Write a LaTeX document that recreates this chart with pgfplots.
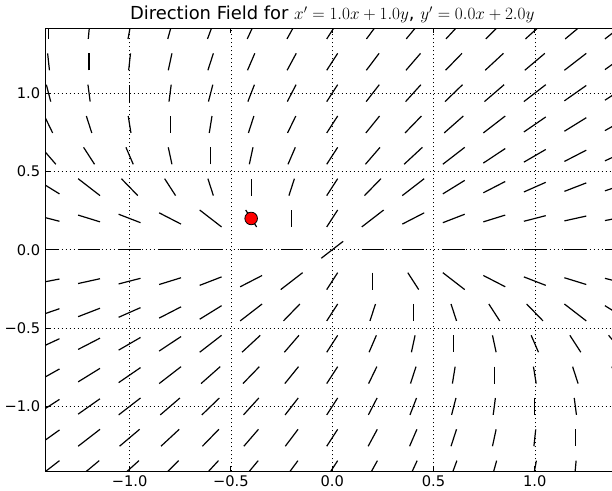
\documentclass[border=0pt]{standalone}
\usepackage{fontspec}
\setmainfont{DejaVu Sans}
\usepackage{pgfplots}
\usepackage{pgfplotstable}
\pgfplotsset{compat=1.18}
\pgfplotstableread{
x y u v
-1.4 -1.4 -2.8 -2.8
-1.2 -1.4 -2.6 -2.8
-1.0 -1.4 -2.4 -2.8
-0.8 -1.4 -2.2 -2.8
-0.6 -1.4 -2.0 -2.8
-0.4 -1.4 -1.8 -2.8
-0.2 -1.4 -1.6 -2.8
0.0 -1.4 -1.4 -2.8
0.2 -1.4 -1.2 -2.8
0.4 -1.4 -1.0 -2.8
0.6 -1.4 -0.8 -2.8
0.8 -1.4 -0.6 -2.8
1.0 -1.4 -0.4 -2.8
1.2 -1.4 -0.2 -2.8
1.4 -1.4 0.0 -2.8
-1.4 -1.2 -2.6 -2.4
-1.2 -1.2 -2.4 -2.4
-1.0 -1.2 -2.2 -2.4
-0.8 -1.2 -2.0 -2.4
-0.6 -1.2 -1.8 -2.4
-0.4 -1.2 -1.6 -2.4
-0.2 -1.2 -1.4 -2.4
0.0 -1.2 -1.2 -2.4
0.2 -1.2 -1.0 -2.4
0.4 -1.2 -0.8 -2.4
0.6 -1.2 -0.6 -2.4
0.8 -1.2 -0.4 -2.4
1.0 -1.2 -0.2 -2.4
1.2 -1.2 0.0 -2.4
1.4 -1.2 0.2 -2.4
-1.4 -1.0 -2.4 -2.0
-1.2 -1.0 -2.2 -2.0
-1.0 -1.0 -2.0 -2.0
-0.8 -1.0 -1.8 -2.0
-0.6 -1.0 -1.6 -2.0
-0.4 -1.0 -1.4 -2.0
-0.2 -1.0 -1.2 -2.0
0.0 -1.0 -1.0 -2.0
0.2 -1.0 -0.8 -2.0
0.4 -1.0 -0.6 -2.0
0.6 -1.0 -0.4 -2.0
0.8 -1.0 -0.2 -2.0
1.0 -1.0 0.0 -2.0
1.2 -1.0 0.2 -2.0
1.4 -1.0 0.4 -2.0
-1.4 -0.8 -2.2 -1.6
-1.2 -0.8 -2.0 -1.6
-1.0 -0.8 -1.8 -1.6
-0.8 -0.8 -1.6 -1.6
-0.6 -0.8 -1.4 -1.6
-0.4 -0.8 -1.2 -1.6
-0.2 -0.8 -1.0 -1.6
0.0 -0.8 -0.8 -1.6
0.2 -0.8 -0.6 -1.6
0.4 -0.8 -0.4 -1.6
0.6 -0.8 -0.2 -1.6
0.8 -0.8 0.0 -1.6
1.0 -0.8 0.2 -1.6
1.2 -0.8 0.4 -1.6
1.4 -0.8 0.6 -1.6
-1.4 -0.6 -2.0 -1.2
-1.2 -0.6 -1.8 -1.2
-1.0 -0.6 -1.6 -1.2
-0.8 -0.6 -1.4 -1.2
-0.6 -0.6 -1.2 -1.2
-0.4 -0.6 -1.0 -1.2
-0.2 -0.6 -0.8 -1.2
0.0 -0.6 -0.6 -1.2
0.2 -0.6 -0.4 -1.2
0.4 -0.6 -0.2 -1.2
0.6 -0.6 0.0 -1.2
0.8 -0.6 0.2 -1.2
1.0 -0.6 0.4 -1.2
1.2 -0.6 0.6 -1.2
1.4 -0.6 0.8 -1.2
-1.4 -0.4 -1.8 -0.8
-1.2 -0.4 -1.6 -0.8
-1.0 -0.4 -1.4 -0.8
-0.8 -0.4 -1.2 -0.8
-0.6 -0.4 -1.0 -0.8
-0.4 -0.4 -0.8 -0.8
-0.2 -0.4 -0.6 -0.8
0.0 -0.4 -0.4 -0.8
0.2 -0.4 -0.2 -0.8
0.4 -0.4 0.0 -0.8
0.6 -0.4 0.2 -0.8
0.8 -0.4 0.4 -0.8
1.0 -0.4 0.6 -0.8
1.2 -0.4 0.8 -0.8
1.4 -0.4 1.0 -0.8
-1.4 -0.2 -1.6 -0.4
-1.2 -0.2 -1.4 -0.4
-1.0 -0.2 -1.2 -0.4
-0.8 -0.2 -1.0 -0.4
-0.6 -0.2 -0.8 -0.4
-0.4 -0.2 -0.6 -0.4
-0.2 -0.2 -0.4 -0.4
0.0 -0.2 -0.2 -0.4
0.2 -0.2 0.0 -0.4
0.4 -0.2 0.2 -0.4
0.6 -0.2 0.4 -0.4
0.8 -0.2 0.6 -0.4
1.0 -0.2 0.8 -0.4
1.2 -0.2 1.0 -0.4
1.4 -0.2 1.2 -0.4
-1.4 0.0 -1.4 0.0
-1.2 0.0 -1.2 0.0
-1.0 0.0 -1.0 0.0
-0.8 0.0 -0.8 0.0
-0.6 0.0 -0.6 0.0
-0.4 0.0 -0.4 0.0
-0.2 0.0 -0.2 0.0
0.0 0.0 0.0001 0.0001
0.2 0.0 0.2 0.0
0.4 0.0 0.4 0.0
0.6 0.0 0.6 0.0
0.8 0.0 0.8 0.0
1.0 0.0 1.0 0.0
1.2 0.0 1.2 0.0
1.4 0.0 1.4 0.0
-1.4 0.2 -1.2 0.4
-1.2 0.2 -1.0 0.4
-1.0 0.2 -0.8 0.4
-0.8 0.2 -0.6 0.4
-0.6 0.2 -0.4 0.4
-0.4 0.2 -0.2 0.4
-0.2 0.2 0.0 0.4
0.0 0.2 0.2 0.4
0.2 0.2 0.4 0.4
0.4 0.2 0.6 0.4
0.6 0.2 0.8 0.4
0.8 0.2 1.0 0.4
1.0 0.2 1.2 0.4
1.2 0.2 1.4 0.4
1.4 0.2 1.6 0.4
-1.4 0.4 -1.0 0.8
-1.2 0.4 -0.8 0.8
-1.0 0.4 -0.6 0.8
-0.8 0.4 -0.4 0.8
-0.6 0.4 -0.2 0.8
-0.4 0.4 0.0 0.8
-0.2 0.4 0.2 0.8
0.0 0.4 0.4 0.8
0.2 0.4 0.6 0.8
0.4 0.4 0.8 0.8
0.6 0.4 1.0 0.8
0.8 0.4 1.2 0.8
1.0 0.4 1.4 0.8
1.2 0.4 1.6 0.8
1.4 0.4 1.8 0.8
-1.4 0.6 -0.8 1.2
-1.2 0.6 -0.6 1.2
-1.0 0.6 -0.4 1.2
-0.8 0.6 -0.2 1.2
-0.6 0.6 0.0 1.2
-0.4 0.6 0.2 1.2
-0.2 0.6 0.4 1.2
0.0 0.6 0.6 1.2
0.2 0.6 0.8 1.2
0.4 0.6 1.0 1.2
0.6 0.6 1.2 1.2
0.8 0.6 1.4 1.2
1.0 0.6 1.6 1.2
1.2 0.6 1.8 1.2
1.4 0.6 2.0 1.2
-1.4 0.8 -0.6 1.6
-1.2 0.8 -0.4 1.6
-1.0 0.8 -0.2 1.6
-0.8 0.8 0.0 1.6
-0.6 0.8 0.2 1.6
-0.4 0.8 0.4 1.6
-0.2 0.8 0.6 1.6
0.0 0.8 0.8 1.6
0.2 0.8 1.0 1.6
0.4 0.8 1.2 1.6
0.6 0.8 1.4 1.6
0.8 0.8 1.6 1.6
1.0 0.8 1.8 1.6
1.2 0.8 2.0 1.6
1.4 0.8 2.2 1.6
-1.4 1.0 -0.4 2.0
-1.2 1.0 -0.2 2.0
-1.0 1.0 0.0 2.0
-0.8 1.0 0.2 2.0
-0.6 1.0 0.4 2.0
-0.4 1.0 0.6 2.0
-0.2 1.0 0.8 2.0
0.0 1.0 1.0 2.0
0.2 1.0 1.2 2.0
0.4 1.0 1.4 2.0
0.6 1.0 1.6 2.0
0.8 1.0 1.8 2.0
1.0 1.0 2.0 2.0
1.2 1.0 2.2 2.0
1.4 1.0 2.4 2.0
-1.4 1.2 -0.2 2.4
-1.2 1.2 0.0 2.4
-1.0 1.2 0.2 2.4
-0.8 1.2 0.4 2.4
-0.6 1.2 0.6 2.4
-0.4 1.2 0.8 2.4
-0.2 1.2 1.0 2.4
0.0 1.2 1.2 2.4
0.2 1.2 1.4 2.4
0.4 1.2 1.6 2.4
0.6 1.2 1.8 2.4
0.8 1.2 2.0 2.4
1.0 1.2 2.2 2.4
1.2 1.2 2.4 2.4
1.4 1.2 2.6 2.4
-1.4 1.4 0.0 2.8
-1.2 1.4 0.2 2.8
-1.0 1.4 0.4 2.8
-0.8 1.4 0.6 2.8
-0.6 1.4 0.8 2.8
-0.4 1.4 1.0 2.8
-0.2 1.4 1.2 2.8
0.0 1.4 1.4 2.8
0.2 1.4 1.6 2.8
0.4 1.4 1.8 2.8
0.6 1.4 2.0 2.8
0.8 1.4 2.2 2.8
1.0 1.4 2.4 2.8
1.2 1.4 2.6 2.8
1.4 1.4 2.8 2.8
}\fieldtable
\begin{document}
\begin{tikzpicture}
\begin{axis}[
  name=ax,
  scale only axis,
  width=573bp, height=443bp,
  xmin=-1.414, xmax=1.414, ymin=-1.414, ymax=1.414,
  xtick={-1,-0.5,0,0.5,1}, ytick={-1,-0.5,0,0.5,1},
  xticklabels={−1.0,−0.5,0.0,0.5,1.0},
  yticklabels={−1.0,−0.5,0.0,0.5,1.0},
  tick label style={font=\fontsize{14.7}{17}\selectfont},
  xticklabel style={yshift=-1bp},
  yticklabel style={xshift=-2bp},
  tick align=inside, tick pos=both,
  major tick length=4.9bp,
  every tick/.style={black, line width=0.8bp},
  axis line style={black, line width=1.2bp},
  grid=major,
  major grid style={black, line width=0.6bp, dash pattern=on 1bp off 3bp},
  title={Direction Field for $x'=1.0x+1.0y$, $y'=0.0x+2.0y$},
  title style={font=\fontsize{18}{21}\selectfont, at={(0.5,1)}, anchor=base, yshift=2.5bp},
]
\addplot[black, line width=1.2bp,
  quiver={
    u={0.108*\thisrow{u}/max(abs(\thisrow{u}),abs(\thisrow{v}))},
    v={0.108*\thisrow{v}/max(abs(\thisrow{u}),abs(\thisrow{v}))}
  }]
  table[
    x expr={\thisrow{x}-0.054*\thisrow{u}/max(abs(\thisrow{u}),abs(\thisrow{v}))},
    y expr={\thisrow{y}-0.054*\thisrow{v}/max(abs(\thisrow{u}),abs(\thisrow{v}))}
  ] {\fieldtable};
\addplot[only marks, mark=*, mark size=6.3bp,
  mark options={fill=red, draw=black, line width=0.8bp}]
  coordinates {(-0.4,0.2)};
\end{axis}
\pgfresetboundingbox
\path[use as bounding box] ([xshift=-45.7bp,yshift=-19.3bp]ax.south west) rectangle ([xshift=566.3bp,yshift=28.3bp]ax.north west);
\end{tikzpicture}
\end{document}
